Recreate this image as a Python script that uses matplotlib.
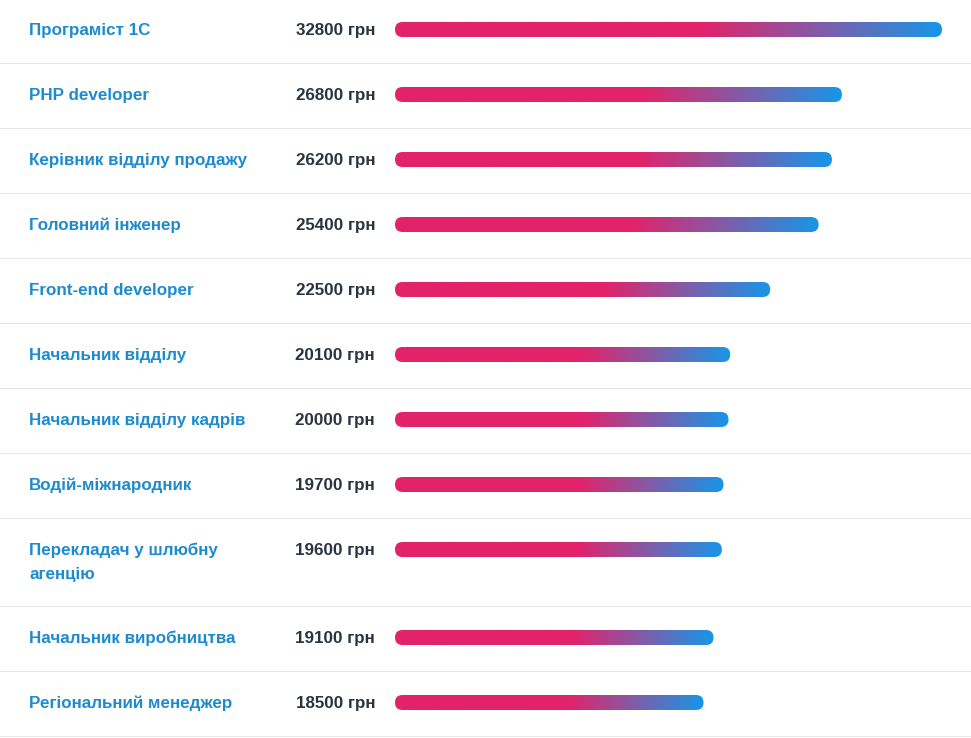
import numpy as np
import matplotlib
matplotlib.use("Agg")
import matplotlib.pyplot as plt
from matplotlib.patches import FancyBboxPatch
from matplotlib.colors import LinearSegmentedColormap
from matplotlib.transforms import blended_transform_factory

plt.rcParams['font.family'] = ['Liberation Sans', 'DejaVu Sans']

# data
jobs = ["Програміст 1С", "PHP developer", "Керівник відділу продажу",
        "Головний інженер", "Front-end developer", "Начальник відділу",
        "Начальник відділу кадрів", "Водій-міжнародник",
        "Перекладач у шлюбну\nагенцію", "Начальник виробництва",
        "Регіональний менеджер"]
salaries = [32800, 26800, 26200, 25400, 22500, 20100, 20000, 19700, 19600, 19100, 18500]
unit = "грн"

W, H = 971, 738
fig = plt.figure(figsize=(W / 100, H / 100), dpi=100)
fig.patch.set_facecolor("white")

# bar scale: 0 at 395 px, max at 942 px
x0_px, x1_px = 395, 942
per_px = max(salaries) / (x1_px - x0_px)
ax = fig.add_axes([0, 0, 1, 1])
ax.axis("off")

cmap = LinearSegmentedColormap.from_list(
    "pinkblue", [(0, "#e2236a"), (0.56, "#e2236a"), (0.75, "#8d55a0"), (1, "#1796e8")])
grad = np.linspace(0, 1, 256).reshape(1, -1)

fig_x = blended_transform_factory(fig.transFigure, ax.transData)

row_h = 65
extra = 23
line_gap = 24
bar_h = 15
fs = 12.25
top = -2
for name, val in zip(jobs, salaries):
    lines = name.split("\n")
    h = row_h + extra * (len(lines) - 1)
    yc = top + 31.5
    base = yc + 5.5
    # labels
    for k, ln in enumerate(lines):
        ax.text(29 / W, base + k * line_gap, ln, transform=fig_x, ha="left",
                va="baseline", fontsize=fs, fontweight="bold", color="#1e8bcf")
    ax.text(375 / W, base, f"{val} {unit}", transform=fig_x, ha="right",
            va="baseline", fontsize=fs, fontweight="bold", color="#2b3440")
    # gradient bar with rounded ends
    im = ax.imshow(grad, cmap=cmap, aspect="auto", interpolation="bilinear",
                   extent=(0, val, yc + bar_h / 2, yc - bar_h / 2), zorder=2)
    clip = FancyBboxPatch((0, yc - bar_h / 2), val, bar_h,
                          boxstyle=f"round,pad=0,rounding_size={bar_h / 2 * per_px}",
                          mutation_aspect=1 / per_px, transform=ax.transData,
                          facecolor="none", edgecolor="none")
    ax.add_patch(clip)
    im.set_clip_path(clip)
    top += h
    ax.plot([0, 1], [top, top], transform=fig_x, color="#e8e8e8",
            lw=0.75, zorder=1)

ax.set_xlim(-x0_px * per_px, (W - x0_px) * per_px)
ax.set_ylim(H, 0)

fig.savefig("out.png", dpi=100, facecolor="white")
